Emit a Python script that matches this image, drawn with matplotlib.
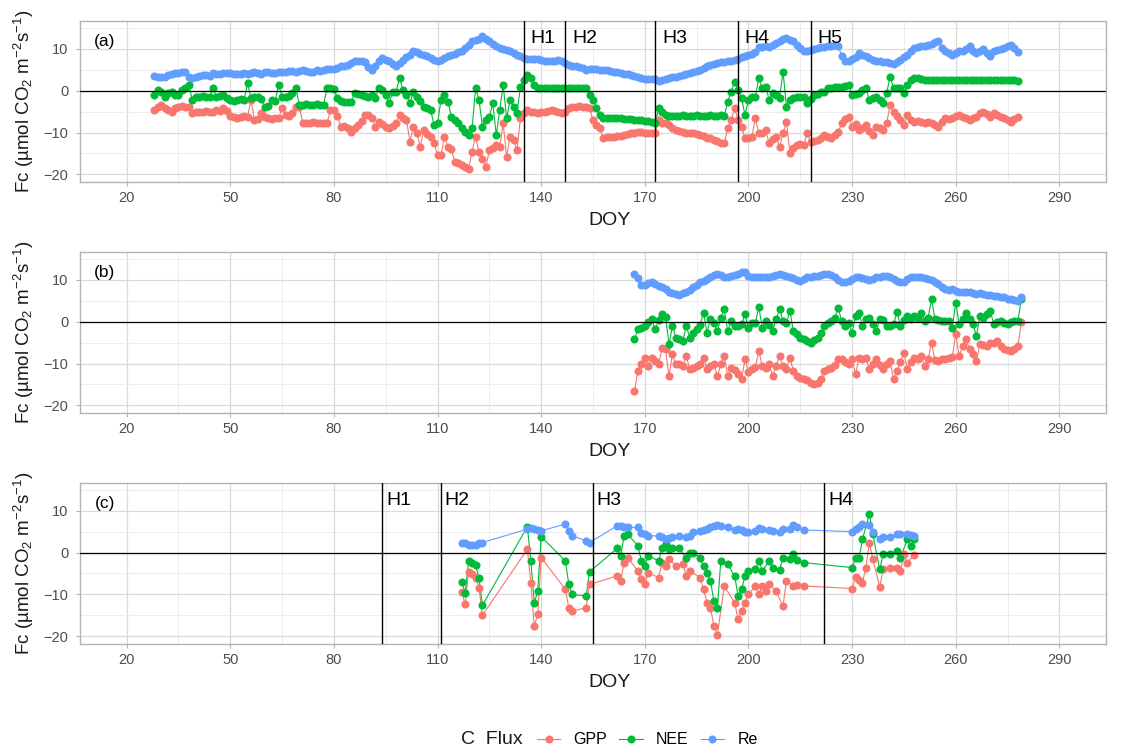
import matplotlib
matplotlib.use('Agg')
import matplotlib.pyplot as plt
from matplotlib.lines import Line2D
import numpy as np

plt.rcParams['font.family'] = ['Liberation Sans', 'DejaVu Sans']
plt.rcParams['mathtext.fontset'] = 'custom'
plt.rcParams['mathtext.rm'] = 'Liberation Sans'
plt.rcParams['mathtext.it'] = 'Liberation Sans:italic'
plt.rcParams['mathtext.bf'] = 'Liberation Sans:bold'

flux_names = ['GPP', 'NEE', 'Re']
flux_colors = ['#F8766D', '#00BA38', '#619CFF']

# ---- panel (a): daily values, DOY 28-278
doy_a = np.arange(28, 279)
gpp_a = [
    -4.6, -4.0, -3.4, -4.2, -4.6, -5.0, -4.2, -3.8, -3.6, -3.9,
    -3.8, -5.4, -5.2, -5.0, -5.0, -4.8, -5.2, -5.0, -4.6, -4.8,
    -4.2, -4.8, -6.0, -6.2, -6.4, -6.2, -6.0, -6.2, -2.2, -7.0,
    -6.8, -5.4, -6.2, -6.6, -6.8, -6.4, -6.6, -4.2, -5.8, -6.0,
    -5.4, -3.8, -3.8, -7.8, -7.6, -7.8, -7.4, -7.8, -7.6, -7.8,
    -7.8, -4.6, -4.6, -6.0, -8.6, -8.4, -8.8, -9.8, -9.0, -8.2,
    -7.2, -5.8, -5.8, -6.6, -8.6, -7.4, -8.0, -8.6, -9.0, -8.4,
    -7.8, -5.8, -6.6, -7.0, -12.2, -8.6, -10.0, -13.4, -9.4, -10.4,
    -11.0, -12.6, -15.4, -15.4, -11.0, -13.4, -14.0, -17.0, -17.2, -17.8,
    -18.2, -18.6, -14.6, -11.0, -14.6, -16.4, -18.2, -14.2, -13.6, -13.0,
    -13.4, -7.8, -15.8, -11.0, -11.8, -14.2, -6.6, -5.4, -4.6, -5.0,
    -5.2, -5.4, -5.2, -5.0, -4.8, -4.6, -4.8, -5.0, -5.4, -5.0,
    -4.2, -4.0, -3.8, -3.7, -3.8, -4.0, -4.2, -7.0, -8.2, -9.0,
    -11.4, -11.0, -11.0, -11.0, -10.8, -10.8, -10.6, -10.4, -10.2, -10.0,
    -9.8, -9.8, -10.2, -10.2, -10.2, -10.0, -7.0, -7.6, -7.8, -8.2,
    -8.8, -9.4, -9.6, -9.8, -10.0, -10.0, -10.2, -10.4, -10.6, -10.8,
    -11.2, -11.4, -11.8, -12.0, -12.4, -12.6, -9.0, -7.0, -4.2, -7.0,
    -8.6, -11.4, -11.4, -11.0, -6.6, -10.2, -10.2, -9.4, -12.6, -11.6,
    -11.0, -13.4, -10.2, -7.4, -15.0, -13.8, -13.0, -12.8, -13.0, -10.2,
    -12.2, -12.0, -11.8, -11.2, -10.6, -11.0, -11.4, -10.6, -9.8, -7.8,
    -6.8, -6.2, -8.6, -8.0, -9.4, -8.8, -8.2, -9.6, -10.6, -8.6,
    -9.0, -9.4, -7.8, -3.4, -5.0, -6.0, -7.0, -8.2, -5.8, -7.0,
    -7.4, -7.2, -7.4, -7.6, -7.4, -7.8, -8.2, -8.6, -7.4, -6.6,
    -6.8, -6.4, -6.0, -5.8, -6.2, -6.6, -7.0, -6.6, -6.2, -5.4,
    -5.0, -5.6, -6.2, -5.4, -5.8, -6.2, -6.6, -7.0, -7.4, -6.8, -6.2,
]
nee_a = [
    -1.0, 0.2, -0.4, -1.4, -0.6, -0.2, -1.0, -1.0, 0.2, 0.6,
    1.4, -2.2, -1.4, -1.6, -1.2, -1.4, -1.6, 0.6, -1.4, -1.2,
    -1.0, -1.8, -2.2, -2.4, -2.2, -2.0, -2.2, 1.8, -1.8, -1.6,
    -1.4, -2.0, -3.8, -3.6, -2.2, -2.4, 1.4, -1.4, -1.6, -1.2,
    -0.6, 0.6, -3.4, -3.4, -3.2, -3.4, -3.4, -3.2, -3.4, -3.4,
    0.6, 0.6, 0.4, -1.8, -2.4, -2.6, -2.8, -2.6, -0.6, -0.8,
    -1.0, -1.2, -1.4, -1.0, -1.8, 0.6, 0.2, -1.0, -3.0, -0.2,
    -0.2, 3.0, 0.2, -1.0, -3.0, -0.2, -1.4, -2.4, -3.8, -4.2,
    -4.6, -8.2, -7.8, -2.2, -1.0, -2.6, -6.2, -7.0, -7.8, -9.0,
    -9.8, -10.6, -9.0, 0.6, -2.2, -8.6, -7.0, -6.2, -3.0, -10.6,
    -4.6, 1.4, -6.6, -2.2, -3.8, -5.4, 1.0, 2.6, 3.8, 3.0,
    1.4, 0.6, 0.6, 0.6, 0.6, 0.6, 0.6, 0.6, 0.6, 0.6,
    0.6, 0.6, 0.6, 0.6, 0.6, 0.6, -1.0, -2.2, -4.2, -5.8,
    -6.6, -6.6, -6.6, -6.6, -6.6, -6.6, -6.8, -6.8, -6.8, -7.0,
    -7.0, -7.0, -7.2, -7.2, -7.4, -7.8, -4.2, -5.0, -5.8, -6.0,
    -6.0, -6.0, -6.0, -5.8, -6.0, -6.0, -6.0, -5.8, -6.0, -6.0,
    -6.0, -5.8, -6.0, -6.0, -5.8, -6.0, -2.6, -0.2, 2.2, 0.2,
    -1.8, -5.8, -2.2, -1.6, -1.4, 3.0, 0.6, 1.0, -2.2, -0.6,
    -1.0, -1.8, 4.6, -3.8, -2.2, -1.8, -1.6, -1.4, -1.4, -3.0,
    -2.0, -1.0, -0.8, -0.4, -0.2, 0.6, 0.6, 0.8, 1.0, 1.0,
    1.2, 1.4, -1.0, -0.8, -0.6, 0.2, 0.6, -2.2, -1.8, -1.4,
    -2.2, -3.0, -0.6, 3.4, 0.6, 0.6, 0.6, -0.6, 1.4, 2.6,
    3.0, 3.0, 2.8, 2.6, 2.6, 2.6, 2.6, 2.6, 2.5, 2.6,
    2.6, 2.5, 2.6, 2.6, 2.5, 2.6, 2.6, 2.5, 2.6, 2.6,
    2.5, 2.6, 2.6, 2.5, 2.6, 2.6, 2.5, 2.6, 2.6, 2.5, 2.4,
]
re_a = [
    3.5, 3.3, 3.2, 3.4, 3.8, 3.9, 4.2, 4.3, 4.6, 4.4,
    3.4, 3.0, 3.2, 3.5, 3.8, 3.7, 3.6, 4.2, 4.0, 4.1,
    4.3, 4.2, 4.2, 3.9, 4.1, 4.0, 4.2, 4.0, 4.3, 4.4,
    4.2, 4.1, 4.4, 4.5, 4.3, 4.2, 4.6, 4.6, 4.4, 4.7,
    4.8, 4.6, 4.8, 4.9, 4.7, 4.5, 4.6, 4.9, 4.8, 5.0,
    5.2, 5.1, 5.3, 5.5, 5.8, 6.0, 6.2, 6.6, 7.0, 7.1,
    7.2, 6.8, 5.6, 5.0, 5.8, 7.0, 7.8, 7.4, 7.0, 6.4,
    5.8, 6.6, 7.4, 8.0, 8.6, 9.4, 9.2, 8.8, 8.6, 8.2,
    7.8, 7.4, 7.0, 7.4, 7.8, 8.2, 8.6, 8.8, 9.2, 9.4,
    10.2, 11.0, 11.8, 12.2, 12.4, 13.0, 12.4, 12.0, 11.2, 10.6,
    10.2, 10.0, 9.8, 9.4, 9.0, 8.6, 8.2, 7.8, 7.6, 7.6,
    7.5, 7.5, 7.3, 7.2, 7.1, 7.0, 7.2, 7.4, 7.2, 6.6,
    6.2, 6.0, 5.8, 5.6, 5.4, 5.0, 5.1, 5.2, 5.1, 5.0,
    5.0, 4.9, 4.8, 4.6, 4.4, 4.2, 4.1, 4.0, 3.8, 3.6,
    3.4, 3.1, 2.8, 2.8, 2.8, 2.7, 2.4, 2.6, 2.8, 3.0,
    3.2, 3.4, 3.6, 3.8, 4.0, 4.3, 4.6, 4.8, 5.0, 5.4,
    5.8, 6.2, 6.4, 6.6, 6.8, 6.9, 7.0, 7.2, 7.4, 7.6,
    8.0, 8.3, 8.6, 8.9, 9.2, 10.4, 10.5, 10.6, 10.4, 10.9,
    11.4, 11.8, 12.4, 12.6, 12.2, 11.8, 11.0, 10.2, 9.4, 9.6,
    9.8, 10.0, 10.2, 10.4, 10.5, 10.6, 10.8, 11.0, 10.6, 8.4,
    7.2, 7.0, 7.6, 8.0, 9.0, 8.6, 8.2, 7.8, 7.4, 7.2,
    7.0, 6.9, 6.8, 6.6, 6.4, 6.8, 7.4, 8.0, 8.6, 9.4,
    10.2, 10.4, 10.6, 10.8, 11.0, 11.2, 11.6, 11.8, 10.2, 9.4,
    9.0, 8.6, 9.0, 9.4, 9.6, 10.0, 10.6, 9.6, 9.0, 9.4,
    10.0, 9.0, 8.2, 9.4, 9.8, 10.0, 10.2, 10.6, 11.0, 10.2, 9.2,
]

# ---- panel (b): daily values, DOY 167-279
doy_b = np.arange(167, 280)
gpp_b = [
    -16.6, -11.8, -10.2, -8.6, -10.6, -8.6, -9.4, -10.2, -6.2, -6.6,
    -13.0, -7.8, -10.2, -10.0, -10.6, -8.2, -11.4, -11.0, -10.6, -10.2,
    -8.6, -11.4, -10.6, -10.2, -13.0, -10.2, -8.2, -13.0, -11.0, -11.6,
    -12.6, -13.8, -9.0, -12.0, -11.4, -10.8, -7.0, -10.6, -11.0, -10.2,
    -13.0, -10.6, -8.2, -10.6, -11.2, -8.6, -11.8, -13.0, -13.4, -13.8,
    -14.0, -14.6, -15.0, -14.6, -13.6, -11.8, -11.4, -11.0, -10.4, -9.0,
    -9.0, -9.6, -10.2, -9.0, -12.6, -8.6, -9.0, -8.6, -11.4, -10.2,
    -9.0, -10.4, -11.4, -10.2, -9.4, -13.8, -11.8, -9.6, -7.4, -11.4,
    -9.6, -8.6, -9.0, -8.2, -10.6, -9.0, -5.0, -9.2, -9.4, -9.0,
    -8.8, -8.6, -8.4, -3.0, -8.2, -5.8, -4.2, -6.6, -7.6, -9.4,
    -5.4, -5.6, -5.8, -5.2, -5.0, -4.6, -5.8, -6.6, -6.8, -7.0,
    -6.4, -5.8, 0.0,
]
nee_b = [
    -4.2, -1.8, -1.4, -1.0, 0.0, 0.6, -1.8, 0.4, 1.8, 1.2,
    -5.4, -1.0, -3.8, -4.2, -4.6, -1.0, -3.8, -2.6, -1.8, -0.8,
    2.2, -2.6, 0.6, -0.4, -2.2, 1.0, 3.0, -2.2, 0.2, -1.0,
    -1.0, -0.6, 1.8, -1.4, -0.4, -0.2, 3.5, -1.4, 0.2, -0.8,
    -2.2, 0.6, 3.0, 0.2, -0.4, 2.6, -2.2, -3.0, -3.8, -4.2,
    -4.6, -5.0, -4.4, -3.8, -2.6, -1.0, -0.2, 0.2, 1.0, 3.2,
    0.2, -1.0, -0.4, -2.6, 1.4, 2.2, -1.0, 0.6, 1.0, -0.6,
    -2.2, 0.6, 0.4, -1.0, -1.0, -0.6, 2.3, -1.0, 0.4, 1.4,
    0.6, 1.4, 0.8, 2.2, 0.2, 1.0, 5.4, 0.6, 0.4, 0.2,
    0.2, 0.2, -1.4, 4.6, -0.6, 0.6, 2.2, 0.6, -0.6, -3.4,
    1.4, 1.0, 1.8, 2.6, -0.6, 0.0, 0.2, -0.4, -0.6, 0.0,
    0.2, 0.2, 5.4,
]
re_b = [
    11.5, 10.4, 8.8, 8.9, 9.2, 9.4, 9.0, 8.6, 8.3, 7.8,
    7.2, 6.8, 6.6, 6.4, 6.8, 7.2, 7.6, 8.2, 8.8, 9.4,
    9.8, 10.3, 10.8, 11.2, 11.5, 11.2, 10.8, 10.7, 11.0, 11.2,
    11.5, 11.8, 12.0, 11.0, 10.8, 10.8, 10.6, 10.7, 10.6, 10.8,
    11.0, 11.2, 11.4, 11.2, 11.0, 10.8, 10.4, 10.0, 9.8, 10.2,
    10.6, 10.8, 11.0, 11.0, 11.2, 11.4, 11.5, 11.2, 10.6, 10.0,
    9.6, 9.4, 9.8, 10.2, 10.6, 10.7, 10.5, 10.2, 10.0, 10.2,
    10.6, 10.8, 11.0, 11.0, 10.6, 10.2, 9.8, 9.4, 9.6, 10.2,
    10.6, 10.7, 10.7, 10.6, 10.4, 10.2, 10.0, 9.6, 9.0, 8.4,
    7.8, 7.6, 7.8, 7.4, 7.2, 7.0, 7.2, 7.0, 6.8, 6.7,
    6.8, 6.6, 6.5, 6.4, 6.2, 6.2, 6.0, 5.8, 5.5, 5.4,
    5.2, 5.0, 5.8,
]

# ---- panel (c): irregular sampling days
doy_c_gpp = [117, 118, 119, 120, 121, 122, 123, 136, 137, 138, 139, 140,
             147, 148, 149, 153, 154, 162, 163, 164, 165, 168, 169, 170, 171,
             174, 175, 176, 177, 179, 181, 182, 183, 186, 187, 188, 189, 190,
             191, 193, 196, 197, 198, 199, 200, 202, 203, 204, 205, 206, 208,
             210, 211, 213, 214, 216, 230, 231, 232, 233, 234, 235, 236, 238,
             239, 241, 243, 244, 245, 246, 248]
gpp_c = [-9.4, -12.4, -4.6, -5.1, -6.0, -8.4, -15.0, 0.8, -7.2, -17.6, -14.8, -1.2,
         -8.8, -13.2, -14.0, -13.2, -7.6, -5.6, -6.8, -2.4, -1.2, -4.4, -6.4, -7.6, -4.8,
         -6.0, -2.4, -3.2, -1.6, -3.2, -2.8, -5.6, -4.4, -6.0, -8.8, -12.0, -13.2, -17.6,
         -19.8, -8.0, -12.0, -16.0, -14.0, -12.0, -10.0, -8.0, -10.0, -8.0, -9.2, -7.6, -9.2,
         -12.8, -6.8, -8.0, -7.8, -8.0, -8.6, -5.8, -6.6, -7.2, -3.6, 2.4, -1.6, -8.2,
         -4.0, -3.8, -3.6, -4.4, -0.4, -2.4, -0.6]
doy_c = [117, 118, 119, 120, 121, 122, 123, 136, 137, 138, 139, 140,
         147, 148, 149, 153, 154, 162, 163, 164, 165, 168, 169, 170, 171,
         174, 175, 176, 177, 178, 180, 182, 183, 184, 186, 187, 188, 189, 190,
         191, 192, 194, 196, 197, 198, 199, 200, 202, 203, 204, 206, 207, 209,
         210, 212, 213, 214, 216, 230, 231, 232, 233, 235, 236, 238, 239, 241,
         243, 244, 246, 247, 248]
nee_c = [-7.0, -9.6, -2.1, -2.5, -2.9, -6.2, -12.6, 6.2, -2.0, -12.0, -9.2, 3.8,
         -2.0, -7.6, -10.0, -10.4, -4.6, 1.0, -0.8, 4.0, 4.4, 1.6, -2.0, -3.2, -0.8,
         -2.0, 1.2, 2.0, 0.8, 1.2, 1.0, -1.4, 0.0, 0.0, -1.2, -3.2, -4.8, -6.8, -11.6,
         -13.2, -2.0, -2.8, -5.6, -10.4, -8.8, -5.6, -4.4, -4.0, -2.0, -4.4, -2.0, -3.6, -4.2,
         -1.2, -1.6, -0.4, -1.8, -2.4, -3.6, -1.2, -1.4, 3.2, 9.2, 4.4, -4.0, -0.4, -0.4,
         0.4, -1.2, 3.2, 1.6, 3.2]
re_c = [2.4, 2.2, 1.8, 1.8, 1.8, 2.2, 2.4, 5.6, 5.8, 5.6, 5.4, 5.2,
        6.8, 5.2, 4.0, 2.8, 2.4, 6.4, 6.4, 6.2, 6.0, 6.0, 4.6, 4.4, 4.0,
        4.0, 3.6, 3.2, 3.4, 3.8, 4.0, 3.8, 4.0, 4.8, 5.2, 5.4, 5.6, 6.0, 6.4,
        6.6, 6.4, 6.0, 5.4, 5.6, 5.4, 4.8, 4.8, 5.2, 5.8, 5.6, 5.4, 5.2, 5.0,
        5.6, 5.6, 6.6, 6.0, 5.4, 5.0, 5.6, 6.0, 6.8, 6.6, 4.8, 3.2, 3.8, 3.8,
        4.4, 4.4, 4.4, 4.2, 4.0]

# harvest markers
h_lines_a = [135, 147, 173, 197, 218]
h_lines_c = [94, 111, 155, 222]
h_names_a = ['H1', 'H2', 'H3', 'H4', 'H5']
h_names_c = ['H1', 'H2', 'H3', 'H4']

W, H = 1130, 748
fig = plt.figure(figsize=(W / 100, H / 100), dpi=100)
fig.patch.set_facecolor('white')

panel_px = [(20.7, 181.7), (251.7, 412.7), (482.5, 643.5)]
left_px, right_px = 80, 1106
axes = []
for top, bot in panel_px:
    ax = fig.add_axes([left_px / W, 1 - bot / H, (right_px - left_px) / W,
                       (bot - top) / H])
    axes.append(ax)

panel_data = [
    [(doy_a, gpp_a), (doy_a, nee_a), (doy_a, re_a)],
    [(doy_b, gpp_b), (doy_b, nee_b), (doy_b, re_b)],
    [(doy_c_gpp, gpp_c), (doy_c, nee_c), (doy_c, re_c)],
]
letters = ['(a)', '(b)', '(c)']

for ax, series, letter in zip(axes, panel_data, letters):
    for (x, y), col in zip(series, flux_colors):
        ax.plot(x, y, color=col, lw=0.8, zorder=2)
    for (x, y), col in zip(series, flux_colors):
        ax.plot(x, y, 'o', color=col, markersize=5.8, markeredgewidth=0,
                zorder=3)
    ax.axhline(0, color='black', lw=0.9, zorder=4)

    ax.set_xlim(6.5, 303.5)
    ax.set_ylim(-21.75, 16.75)
    ax.set_xticks(np.arange(20, 291, 30))
    ax.set_xticks(np.arange(35, 300, 30), minor=True)
    ax.set_yticks([-20, -10, 0, 10])
    ax.set_yticks([-15, -5, 5, 15], minor=True)
    ax.grid(which='major', color='#DADADA', lw=0.9, zorder=0)
    ax.grid(which='minor', color='#EAEAEA', lw=0.6, zorder=0)
    ax.set_axisbelow(True)
    for sp in ax.spines.values():
        sp.set_color('#B3B3B3')
        sp.set_linewidth(1.0)
    ax.tick_params(which='major', color='#B3B3B3', length=2.75, width=0.8,
                   labelsize=10.5, labelcolor='#4D4D4D')
    ax.tick_params(axis='x', which='major', pad=4.0)
    ax.tick_params(axis='y', which='major', pad=5.5)
    ax.tick_params(which='minor', length=0)

    ax.text(13.7, 11.7, letter, ha='center', va='center', fontsize=12.5,
            color='black', zorder=5)
    ax.text((609 - left_px) / (right_px - left_px), -0.242, 'DOY',
            transform=ax.transAxes, ha='center', va='center', fontsize=14,
            color='#1A1A1A')
    ax.text((24 - left_px) / (right_px - left_px), 0.5,
            'Fc (µmol CO$_2$ m$^{-2}$s$^{-1}$)', transform=ax.transAxes,
            rotation=90, ha='center', va='center', fontsize=13.5,
            color='#1A1A1A')

for xv, name in zip(h_lines_a, h_names_a):
    axes[0].axvline(xv, color='black', lw=1.0, zorder=4)
    axes[0].text(xv + 5.6, 12.5, name, ha='center', va='center',
                 fontsize=14, zorder=5)
for xv, name in zip(h_lines_c, h_names_c):
    axes[2].axvline(xv, color='black', lw=1.0, zorder=4)
    axes[2].text(xv + 4.7, 12.5, name, ha='center', va='center',
                 fontsize=14, zorder=5)

# legend at the bottom
handles = [Line2D([], [], color=c, marker='o', markersize=5.8, lw=0.8,
                  markeredgewidth=0) for c in flux_colors]
fig.legend(handles, flux_names, ncol=3, loc='center left',
           bbox_to_anchor=(537 / W, 1 - 740 / H), frameon=False,
           fontsize=11.5, handlelength=1.45, handletextpad=0.85,
           columnspacing=0.75, borderpad=0, borderaxespad=0)
fig.text(461 / W, 1 - 740 / H, 'C  Flux', ha='left', va='center',
         fontsize=14, color='#1A1A1A')

fig.savefig('out.png', dpi=100)
plt.close()
